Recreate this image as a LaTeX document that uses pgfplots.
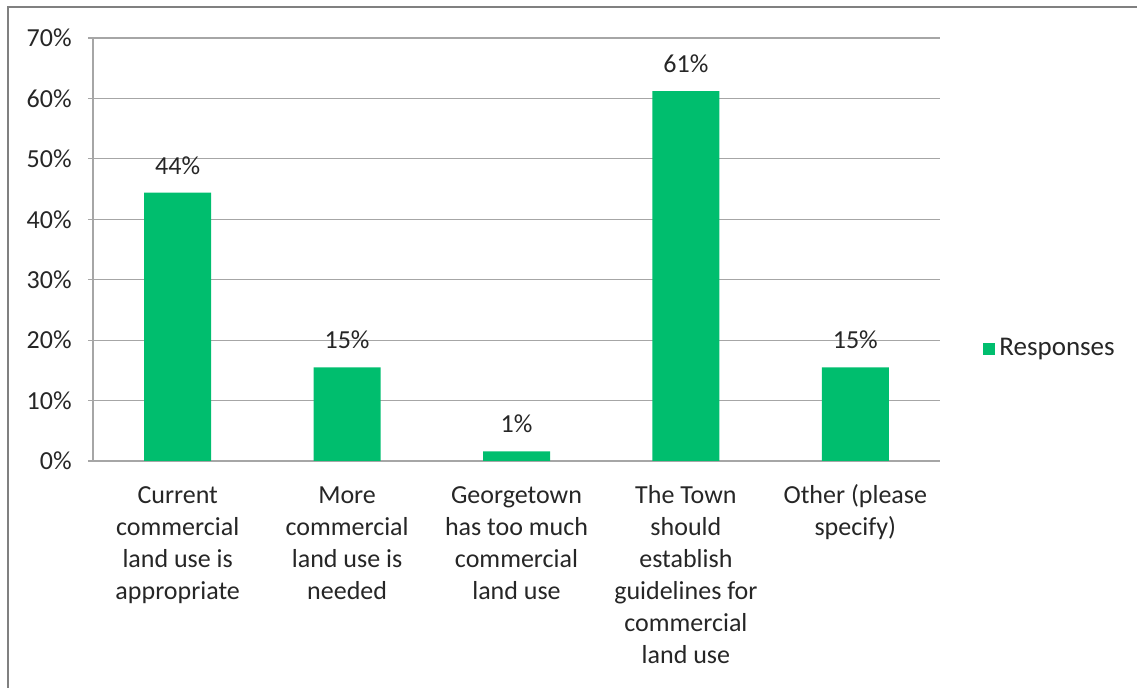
\documentclass[border=0pt]{standalone}
\usepackage{pgfplots}
\pgfplotsset{compat=1.18}
\usepackage{fontspec}
\setmainfont{Carlito}
\definecolor{barg}{RGB}{0,190,110}
\definecolor{gridg}{RGB}{166,166,166}
\definecolor{frameg}{RGB}{128,128,128}
\definecolor{txt}{RGB}{38,38,38}
\begin{document}
\fontsize{13}{16}\selectfont
\begin{tikzpicture}
\path[use as bounding box] (-46.5pt,-113.5pt) rectangle (522pt,230.5pt);
\draw[frameg, line width=1pt] (-42.5pt,-113.5pt) -- (-42.5pt,227pt) -- (522pt,227pt);
\begin{axis}[
  at={(0,0)}, anchor=south west,
  scale only axis, width=423.5pt, height=211.5pt,
  xmin=-0.5, xmax=4.5, ymin=0, ymax=70,
  ytick={0,10,...,70},
  yticklabel={\pgfmathprintnumber{\tick}\%},
  /pgf/number format/assume math mode=true,
  axis lines*=left,
  axis line style={gridg, line width=0.6pt},
  ymajorgrids, grid style={gridg, line width=0.6pt},
  ytick style={gridg, line width=0.6pt},
  tick align=outside,
  major tick length=2.5pt,
  yticklabel style={font=\fontsize{13}{16}\selectfont, text=txt, inner sep=0pt, xshift=-8pt},
  xtick={0,1,2,3,4},
  xticklabels={{\strut Current\\commercial\\land use is\\appropriate},{\strut More\\commercial\\land use is\\needed},{\strut Georgetown\\has too much\\commercial\\land use},{\strut The Town\\should\\establish\\guidelines for\\commercial\\land use},{\strut Other (please\\specify)}},
  xticklabel style={font=\fontsize{13}{16}\selectfont, text=txt, align=center, anchor=north, inner sep=0pt, yshift=-7.5pt},
  x tick style={draw=none},
  extra x ticks={-0.5,0.5,1.5,2.5,3.5,4.5},
  extra x tick labels={},
  extra x tick style={grid=none, tick style={draw=gridg, line width=0.6pt}, major tick length=3.5pt},
  ybar, bar width=33.5pt,
  point meta=explicit symbolic,
  nodes near coords,
  every node near coord/.append style={font=\fontsize{13}{16}\selectfont, text=txt, inner sep=0pt, yshift=9pt},
  legend style={at={(1,0.265)}, anchor=west, xshift=21.5pt, draw=none, fill=none, inner sep=0pt, font=\fontsize{13.5}{16}\selectfont, text=txt},
  legend image code/.code={\fill[barg] (0pt,-3pt) rectangle (6pt,3pt);},
]
\addplot[fill=barg, draw=none] coordinates {
  (0,44.4) [44\%]
  (1,15.5) [15\%]
  (2,1.6) [1\%]
  (3,61.2) [61\%]
  (4,15.5) [15\%]
};
\addlegendentry{Responses}
\end{axis}
\end{tikzpicture}
\end{document}
